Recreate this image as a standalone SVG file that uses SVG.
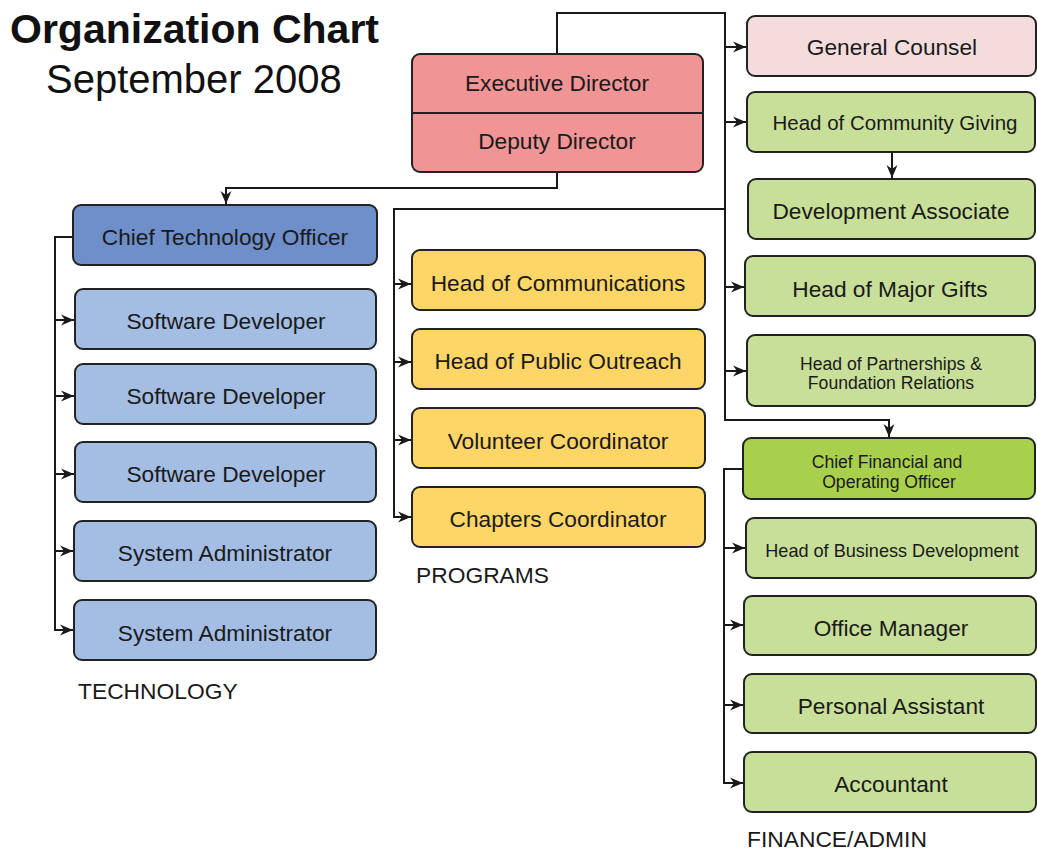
<svg xmlns="http://www.w3.org/2000/svg" width="1037" height="854" viewBox="0 0 1037 854">
<defs>
<marker id="arr" markerUnits="userSpaceOnUse" markerWidth="14" markerHeight="12" refX="13" refY="6" orient="auto">
<path d="M0,0.5 L13,6 L0,11.5 L4,6 z" fill="#1a1a1a"/>
</marker>
</defs>
<style>
.box{stroke:#222;stroke-width:2}
.t{font-family:"Liberation Sans",Arial,sans-serif;font-size:22.7px;fill:#1a1a1a;text-anchor:middle}
.s{font-size:18.1px}
.s2{font-size:17.6px}
.m{font-size:20.5px}
.exec{fill:#f09495}
.gc{fill:#f4dcdd}
.gr{fill:#c8df99}
.cfo{fill:#a9d04d}
.yl{fill:#fed567}
.bl{fill:#a4bde3}
.cto{fill:#6e8fca}
.lbl{font-family:"Liberation Sans",Arial,sans-serif;font-size:22.8px;fill:#1a1a1a}
.c{fill:none;stroke:#1a1a1a;stroke-width:2}
</style>
<rect width="1037" height="854" fill="#ffffff"/>
<g id="title">
<text x="10" y="43" font-family="'Liberation Sans',Arial,sans-serif" font-size="41" font-weight="bold" fill="#111">Organization Chart</text>
<text x="46" y="93" font-family="'Liberation Sans',Arial,sans-serif" font-size="40" fill="#111">September 2008</text>
</g>
<g id="connectors">
<path class="c" d="M557,54 V13 H725 V420 H889 V437" marker-end="url(#arr)"/>
<path class="c" d="M725,47 H746" marker-end="url(#arr)"/>
<path class="c" d="M725,122 H746" marker-end="url(#arr)"/>
<path class="c" d="M725,287 H744" marker-end="url(#arr)"/>
<path class="c" d="M725,371 H746" marker-end="url(#arr)"/>
<path class="c" d="M892,152 V178" marker-end="url(#arr)"/>
<path class="c" d="M557,172 V188 H226 V204" marker-end="url(#arr)"/>
<path class="c" d="M725,209 H394 V517 H411" marker-end="url(#arr)"/>
<path class="c" d="M394,284 H411" marker-end="url(#arr)"/>
<path class="c" d="M394,362 H411" marker-end="url(#arr)"/>
<path class="c" d="M394,440 H411" marker-end="url(#arr)"/>
<path class="c" d="M73,237 H55 V630 H73" marker-end="url(#arr)"/>
<path class="c" d="M55,320 H74" marker-end="url(#arr)"/>
<path class="c" d="M55,396 H74" marker-end="url(#arr)"/>
<path class="c" d="M55,474 H74" marker-end="url(#arr)"/>
<path class="c" d="M55,551 H73" marker-end="url(#arr)"/>
<path class="c" d="M743,469 H724 V783 H743" marker-end="url(#arr)"/>
<path class="c" d="M724,548 H745" marker-end="url(#arr)"/>
<path class="c" d="M724,625 H743" marker-end="url(#arr)"/>
<path class="c" d="M724,705 H743" marker-end="url(#arr)"/>
</g>
<g id="executive">
<rect class="box exec" x="412" y="54" width="291" height="118" rx="8"/>
<line x1="412" y1="113" x2="703" y2="113" stroke="#222" stroke-width="2"/>
<text class="t" x="557" y="91">Executive Director</text>
<text class="t" x="557" y="149">Deputy Director</text>
</g>
<g id="general-counsel"><rect class="box gc" x="747" y="16" width="289" height="60" rx="8"/><text class="t" x="892" y="55">General Counsel</text></g>
<g id="head-community-giving"><rect class="box gr" x="747" y="92" width="288" height="60" rx="8"/><text class="t m" x="895" y="130">Head of Community Giving</text></g>
<g id="development-associate"><rect class="box gr" x="748" y="179" width="287" height="60" rx="8"/><text class="t" x="891" y="219">Development Associate</text></g>
<g id="head-major-gifts"><rect class="box gr" x="745" y="256" width="290" height="60" rx="8"/><text class="t" x="890" y="297">Head of Major Gifts</text></g>
<g id="head-partnerships"><rect class="box gr" x="747" y="335" width="288" height="71" rx="8"/><text class="t s2"><tspan x="891" y="369.5">Head of Partnerships &amp;</tspan><tspan x="891" y="389">Foundation Relations</tspan></text></g>
<g id="cfo"><rect class="box cfo" x="743" y="438" width="292" height="61" rx="8"/><text class="t s2"><tspan x="887" y="468">Chief Financial and</tspan><tspan x="889" y="487.5">Operating Officer</tspan></text></g>
<g id="head-business-development"><rect class="box gr" x="746" y="518" width="290" height="60" rx="8"/><text class="t s" x="892" y="557">Head of Business Development</text></g>
<g id="office-manager"><rect class="box gr" x="744" y="596" width="292" height="59" rx="8"/><text class="t" x="891" y="636">Office Manager</text></g>
<g id="personal-assistant"><rect class="box gr" x="744" y="674" width="292" height="59" rx="8"/><text class="t" x="891" y="714">Personal Assistant</text></g>
<g id="accountant"><rect class="box gr" x="744" y="752" width="292" height="60" rx="8"/><text class="t" x="891" y="792">Accountant</text></g>
<g id="cto"><rect class="box cto" x="73" y="205" width="304" height="60" rx="8"/><text class="t" x="225" y="245">Chief Technology Officer</text></g>
<g id="software-developer-1"><rect class="box bl" x="75" y="289" width="301" height="60" rx="8"/><text class="t" x="226" y="329">Software Developer</text></g>
<g id="software-developer-2"><rect class="box bl" x="75" y="364" width="301" height="60" rx="8"/><text class="t" x="226" y="404">Software Developer</text></g>
<g id="software-developer-3"><rect class="box bl" x="75" y="442" width="301" height="60" rx="8"/><text class="t" x="226" y="482">Software Developer</text></g>
<g id="system-administrator-1"><rect class="box bl" x="74" y="521" width="302" height="60" rx="8"/><text class="t" x="225" y="561">System Administrator</text></g>
<g id="system-administrator-2"><rect class="box bl" x="74" y="600" width="302" height="60" rx="8"/><text class="t" x="225" y="641">System Administrator</text></g>
<g id="head-communications"><rect class="box yl" x="412" y="250" width="293" height="60" rx="8"/><text class="t" x="558" y="291">Head of Communications</text></g>
<g id="head-public-outreach"><rect class="box yl" x="412" y="329" width="293" height="60" rx="8"/><text class="t" x="558" y="369">Head of Public Outreach</text></g>
<g id="volunteer-coordinator"><rect class="box yl" x="412" y="408" width="293" height="60" rx="8"/><text class="t" x="558" y="449">Volunteer Coordinator</text></g>
<g id="chapters-coordinator"><rect class="box yl" x="412" y="487" width="293" height="60" rx="8"/><text class="t" x="558" y="527">Chapters Coordinator</text></g>
<g id="labels">
<text class="lbl" x="78" y="699">TECHNOLOGY</text>
<text class="lbl" x="416" y="583">PROGRAMS</text>
<text class="lbl" x="747" y="847">FINANCE/ADMIN</text>
</g>
</svg>
